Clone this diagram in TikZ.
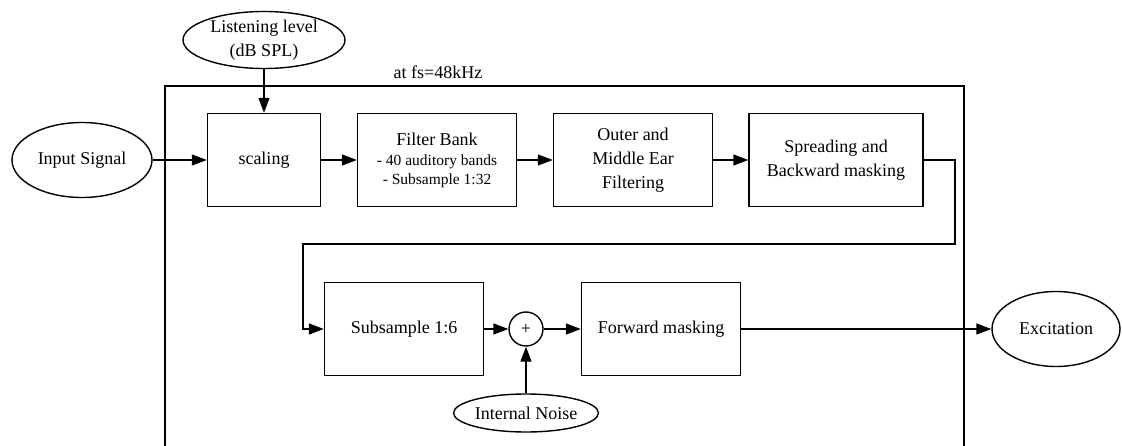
\documentclass[tikz,border=0pt]{standalone}
\usepackage{fontspec}
\setmainfont{Liberation Serif}
\usetikzlibrary{arrows.meta,shapes.geometric}
\begin{document}
\begin{tikzpicture}[x=1pt,y=-1pt,
  every node/.style={font=\fontsize{18}{24}\selectfont},
  blk/.style={draw,line width=1.4pt,minimum height=93pt,align=center,inner sep=0pt},
  ell/.style={draw,ellipse,line width=1.4pt,inner sep=0pt,align=center},
  conn/.style={line width=1.4pt,-{Triangle[length=15pt,width=11pt]}}]
\useasboundingbox (0,0) rectangle (1122,446);
% cluster
\draw[line width=1.3pt] (165,446) -- (165,86) -- (964,86) -- (964,446);
\node (fslabel) at (438,72) {at fs=48kHz};
% nodes
\node[ell,minimum width=162pt,minimum height=56pt] (listen) at (264,40) {Listening level\\(dB SPL)};
\node[ell,minimum width=140pt,minimum height=75pt] (input) at (82,160) {Input Signal};
\node[blk,minimum width=113pt] (scaling) at (264,160) {scaling};
\node[blk,minimum width=159pt] (filter) at (437,160) {Filter Bank\\[-4pt]{\fontsize{15.5}{20}\selectfont - 40 auditory bands}\\[-5pt]{\fontsize{15.5}{20}\selectfont - Subsample 1:32}};
\node[blk,minimum width=159pt] (outer) at (633,160) {Outer and\\Middle Ear\\Filtering};
\node[blk,minimum width=174pt] (spread) at (836,160) {Spreading and\\Backward masking};
\node[blk,minimum width=159pt] (sub) at (404,329) {Subsample 1:6};
\node[draw,circle,line width=1.4pt,minimum size=34pt,inner sep=0pt] (plus) at (526,329) {+};
\node[blk,minimum width=159pt] (fwd) at (661,329) {Forward masking};
\node[ell,minimum width=140pt,minimum height=38pt] (noise) at (526,413) {Internal Noise};
\node[ell,minimum width=128pt,minimum height=75pt] (exc) at (1056,329) {Excitation};
\coordinate (c1) at (955,160);
\coordinate (c2) at (955,244);
\coordinate (c3) at (303,244);
\coordinate (c4) at (303,329);
% connectors
\draw[conn] (listen) -- (scaling);
\draw[conn] (input) -- (scaling);
\draw[conn] (scaling) -- (filter);
\draw[conn] (filter) -- (outer);
\draw[conn] (outer) -- (spread);
\draw[conn] (spread.east) -- (c1) -- (c2) -- (c3) -- (c4) -- (sub.west);
\draw[conn] (sub) -- (plus);
\draw[conn] (noise) -- (plus);
\draw[conn] (plus) -- (fwd);
\draw[conn] (fwd) -- (exc);
\end{tikzpicture}
\end{document}
